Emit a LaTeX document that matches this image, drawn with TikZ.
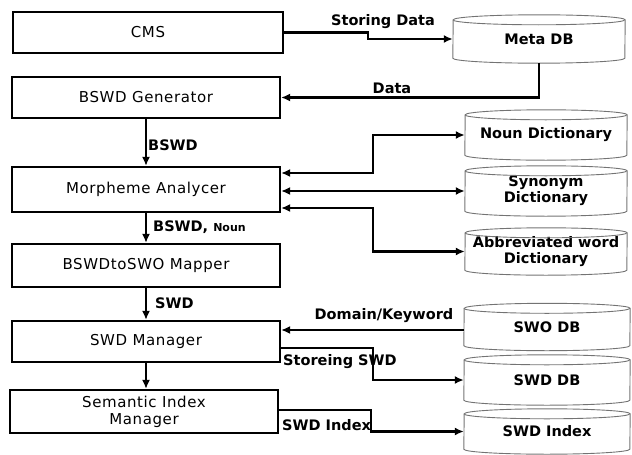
\documentclass[tikz,border=0pt]{standalone}
\usepackage{fontspec}
\setmainfont{DejaVu Sans}
\newfontfamily\boxfont[LetterSpace=4]{DejaVu Sans}
\usetikzlibrary{arrows.meta,calc}
\tikzset{
  procbox/.style={draw, line width=2.2pt, minimum width=268pt, minimum height=42pt, inner sep=0pt,
    align=center, font=\boxfont\fontsize{15}{17}\selectfont},
  drum/.style={minimum height=48pt, inner sep=0pt, align=center,
    font=\bfseries\fontsize{14.5}{16}\selectfont},
  drumline/.style={draw=black!55, line width=0.9pt},
  conn/.style={line width=2.4pt, -{Latex[length=9pt,width=8pt]}},
  both/.style={line width=2.4pt, {Latex[length=9pt,width=8pt]}-{Latex[length=9pt,width=8pt]}},
  lab/.style={inner sep=0pt, font=\bfseries\fontsize{14.5}{16}\selectfont}
}
\newcommand\drawdrum[2]{%
  \draw[drumline] ($(#1.south west)+(0,-5)$) arc[start angle=180,end angle=360,x radius=#2,y radius=5pt]
    -- ($(#1.north east)+(0,5)$) arc[start angle=0,end angle=180,x radius=#2,y radius=5pt] -- cycle;
  \draw[drumline] ($(#1.north west)+(0,5)$) arc[start angle=180,end angle=360,x radius=#2,y radius=5pt];}
\begin{document}
\begin{tikzpicture}[x=1pt,y=-1pt]
\useasboundingbox (0,0) rectangle (632,455);
% process boxes
\node[procbox, minimum width=270pt, minimum height=41pt] (cms) at (148,32.5) {CMS};
\node[procbox, minimum height=41pt] (gen) at (146,97.5) {BSWD Generator};
\node[procbox, minimum height=45pt] (morph) at (146,189.5) {Morpheme Analycer};
\node[procbox, minimum height=43pt] (mapper) at (146,265.5) {BSWDtoSWO Mapper};
\node[procbox, minimum height=41pt] (swdm) at (146,341.5) {SWD Manager};
\node[procbox, minimum height=43pt] (sim) at (144,411.5) {Semantic Index\\Manager};
% stores
\node[drum, minimum width=172pt] (meta) at (539,39) {Meta DB};
\node[drum, minimum width=162pt, minimum height=50pt] (noun) at (546,135) {Noun Dictionary};
\node[drum, minimum width=162pt, minimum height=50pt] (syn) at (546,191) {Synonym\\Dictionary};
\node[drum, minimum width=162pt, minimum height=47pt] (abbr) at (546,251.5) {Abbreviated word\\Dictionary};
\node[drum, minimum width=166pt, minimum height=47pt] (swo) at (547,327) {SWO DB};
\node[drum, minimum width=166pt, minimum height=50pt] (swddb) at (547,380) {SWD DB};
\node[drum, minimum width=166pt, minimum height=45pt] (idx) at (547,431.5) {SWD Index};
\drawdrum{meta}{86pt}
\drawdrum{noun}{81pt}
\drawdrum{syn}{81pt}
\drawdrum{abbr}{81pt}
\drawdrum{swo}{83pt}
\drawdrum{swddb}{83pt}
\drawdrum{idx}{83pt}
% vertical flow
\draw[conn] (gen.south) -- (morph.north);
\draw[conn] (morph.south) -- (mapper.north);
\draw[conn] (mapper.south) -- (swdm.north);
\draw[conn] (swdm.south) -- (swdm.south |- sim.north);
\node[lab, anchor=west] (l1) at (148,145) {BSWD};
\node[lab, anchor=west] (l2) at (153,227) {BSWD, {\fontsize{11}{12}\selectfont Noun}};
\node[lab, anchor=west] (l3) at (155,303) {SWD};
% right connectors
\draw[conn] (cms.east) -- (368,32.5) |- (meta.west);
\node[lab] (l4) at (383,22) {Storing Data};
\draw[conn] (meta.south) |- (gen.east);
\node[lab] (l5) at (392,88) {Data};
\draw[both] ($(morph.east)+(0,-16.5)$) -- (373,173) |- (noun.west);
\draw[both] (morph.east |- syn.west) -- (syn.west);
\draw[both] ($(morph.east)+(0,18.5)$) -- (373,208) |- (abbr.west);
\draw[conn] (swo.west |- 0,330) -- (swdm.east |- 0,330);
\node[lab] (l6) at (384,316) {Domain/Keyword};
\draw[conn] (swdm.east |- 0,348) -- (373,348) |- (swddb.west);
\node[lab, anchor=west] (l7) at (283,362) {Storeing SWD};
\draw[conn] (sim.east |- 0,410) -- (371,410) |- (idx.west);
\node[lab, anchor=west] (l8) at (282,425) {SWD Index};
\end{tikzpicture}
\end{document}
